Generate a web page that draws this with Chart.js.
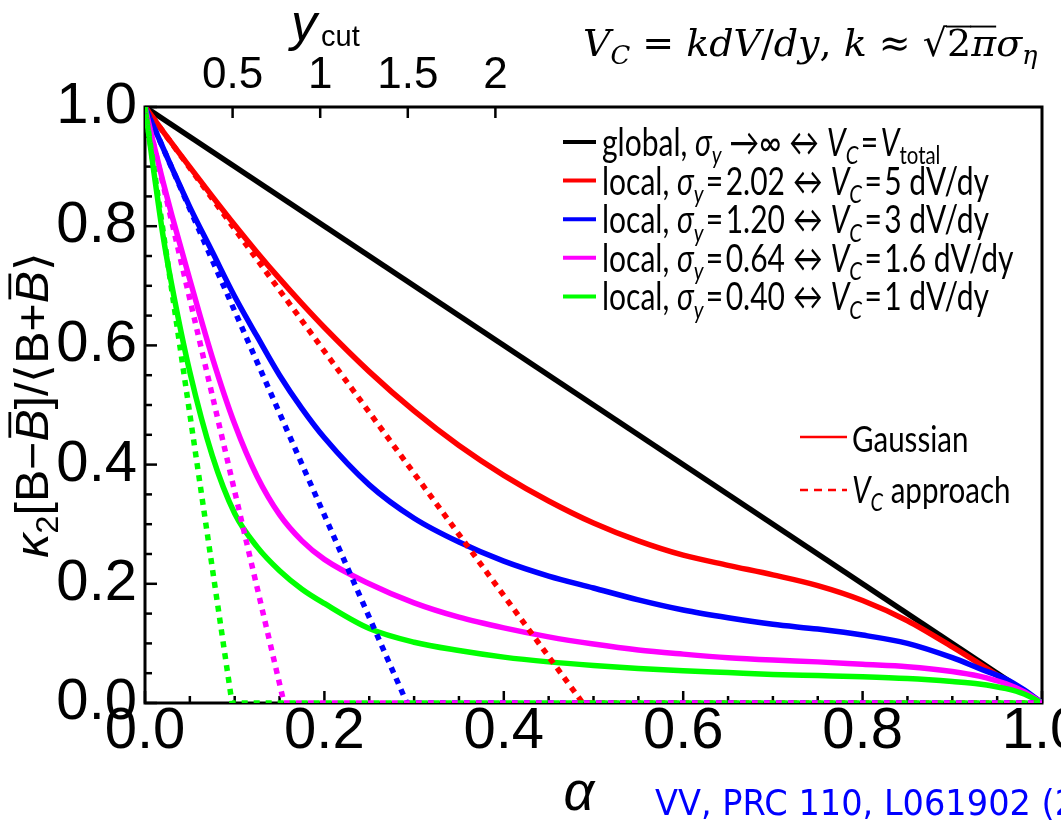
<!DOCTYPE html>
<html>
<head>
<meta charset="utf-8">
<script src="https://cdn.jsdelivr.net/npm/chart.js@4.4.1/dist/chart.umd.min.js"></script>
<style>
html, body { margin: 0; padding: 0; background: #fff; overflow: hidden; }
canvas { display: block; }
</style>
</head>
<body>
<canvas id="chart" width="1061" height="835"></canvas>
<script>

// alpha grid shared by the Gaussian curves
var alphaGrid = [0, 0.01, 0.02, 0.03, 0.05, 0.075, 0.1, 0.125, 0.15, 0.175, 0.2, 0.25, 0.3, 0.35, 0.4, 0.45,
                 0.5, 0.55, 0.6, 0.65, 0.7, 0.75, 0.8, 0.85, 0.9, 0.93, 0.96, 0.98, 1];

var alphaGlobal = [0, 1];
var kappaGlobal = [1, 0];

var kappaSigma202 = [1, 0.98, 0.959, 0.939, 0.899, 0.85, 0.802, 0.756, 0.712, 0.67, 0.63, 0.556, 0.49, 0.432, 0.382, 0.339,
                     0.302, 0.272, 0.248, 0.231, 0.215, 0.197, 0.172, 0.138, 0.094, 0.066, 0.037, 0.019, 0];
var kappaSigma120 = [1, 0.966, 0.932, 0.898, 0.832, 0.757, 0.682, 0.615, 0.55, 0.494, 0.445, 0.366, 0.31, 0.27, 0.238, 0.213,
                     0.193, 0.173, 0.156, 0.143, 0.132, 0.124, 0.114, 0.1, 0.076, 0.058, 0.04, 0.022, 0];
var kappaSigma064 = [1, 0.936, 0.875, 0.818, 0.71, 0.58, 0.468, 0.38, 0.316, 0.272, 0.241, 0.2, 0.168, 0.144, 0.126, 0.111,
                     0.099, 0.089, 0.082, 0.076, 0.072, 0.069, 0.065, 0.061, 0.053, 0.045, 0.032, 0.019, 0];
var kappaSigma040 = [1, 0.89, 0.785, 0.70, 0.555, 0.415, 0.318, 0.262, 0.222, 0.191, 0.167, 0.125, 0.102, 0.088, 0.077, 0.069,
                     0.063, 0.058, 0.054, 0.051, 0.048, 0.046, 0.044, 0.041, 0.036, 0.032, 0.024, 0.015, 0];

// V_C approach: straight drop to zero at alpha = V_C / V_total, then flat
var vcZeroAlpha = [0.488, 0.292, 0.155, 0.097];
var vcKappa = [1, 0, 0];

var sigmaLabels = ['2.02', '1.20', '0.64', '0.40'];
var vcLabels = ['5', '3', '1.6', '1'];
var seriesColors = ['#000000', '#ff0000', '#0000ff', '#ff00ff', '#00ff00'];

var alphaTicks = [0, 0.2, 0.4, 0.6, 0.8, 1.0];
var kappaTicks = [0, 0.2, 0.4, 0.6, 0.8, 1.0];
var ycutTicks = [0.5, 1, 1.5, 2];
var ycutMax = 5.12;

var tickFont = "'Liberation Sans', Arial, sans-serif";
var legendFont = "Lato, 'Open Sans', sans-serif";
var mathFont = "'DejaVu Serif', 'Liberation Serif', serif";

function points(xs, ys) {
    return xs.map(function (x, i) { return {x: x, y: ys[i]}; });
}

// draws a run of text pieces; style flags: i italic, _ subscript, - overline, v radical bar.
// a bare number is a gap in em
function richText(ctx, parts, x, y, size, family, measureOnly) {
    var cx = x;
    parts.forEach(function (p) {
        if (typeof p === 'number') { cx += p * size; return; }
        var txt = p[0], st = p[1] || '';
        var sub = st.indexOf('_') >= 0;
        var fs = sub ? size * 0.68 : size;
        ctx.font = (st.indexOf('i') >= 0 ? 'italic ' : '') + fs + 'px ' + family;
        var w = ctx.measureText(txt).width;
        if (!measureOnly) {
            ctx.fillText(txt, cx, y + (sub ? size * 0.22 : 0));
            if (st.indexOf('-') >= 0) {
                ctx.fillRect(cx + w * 0.12, y - size * 0.86, w * 0.8, size * 0.06);
            }
            if (st.indexOf('v') >= 0) {
                ctx.fillRect(cx - 1, y - size * 0.8, w + 1, size * 0.05);
            }
        }
        cx += w;
    });
    return cx - x;
}

// same, scaled horizontally
function narrowText(ctx, parts, x, y, size, family, squeeze) {
    ctx.save();
    ctx.translate(x, y);
    ctx.scale(squeeze, 1);
    richText(ctx, parts, 0, 0, size, family);
    ctx.restore();
}

function legendParts(k) {
    if (k === 0) {
        return [['global, '], ['σ', 'i'], ['y', 'i_'], [' →∞ ↔ '], ['V', 'i'], ['C', 'i_'], 0.08, ['='], 0.08,
                ['V', 'i'], ['total', '_']];
    }
    return [['local, '], ['σ', 'i'], ['y', 'i_'], 0.08, ['='], 0.08, [sigmaLabels[k - 1] + ' ↔ '], ['V', 'i'], ['C', 'i_'],
            0.08, ['='], 0.08, [vcLabels[k - 1] + ' dV/dy']];
}

var frameAndTicks = {
    id: 'frameAndTicks',
    beforeDatasetsDraw: function (chart) {
        var ctx = chart.ctx, a = chart.chartArea;
        var xs = chart.scales.x, ys = chart.scales.y, xt = chart.scales.x2;
        ctx.save();
        ctx.strokeStyle = '#000';
        ctx.lineWidth = 2.5;
        for (var i = 0; i <= 20; i++) {
            var v = i / 20;
            var len = (i % 4 === 0) ? 12 : 7;
            var px = xs.getPixelForValue(v);
            ctx.beginPath(); ctx.moveTo(px, a.bottom); ctx.lineTo(px, a.bottom - len); ctx.stroke();
            var py = ys.getPixelForValue(v);
            ctx.beginPath(); ctx.moveTo(a.left, py); ctx.lineTo(a.left + len, py); ctx.stroke();
        }
        ycutTicks.forEach(function (t) {
            var px = xt.getPixelForValue(t);
            ctx.beginPath(); ctx.moveTo(px, a.top); ctx.lineTo(px, a.top + 11); ctx.stroke();
        });
        ctx.lineWidth = 3;
        ctx.strokeRect(a.left, a.top, a.right - a.left, a.bottom - a.top);
        ctx.restore();
    }
};

var annotations = {
    id: 'annotations',
    afterDraw: function (chart) {
        var ctx = chart.ctx;
        ctx.save();
        ctx.fillStyle = '#000';
        ctx.textBaseline = 'alphabetic';

        // curve legend
        for (var k = 0; k < 5; k++) {
            var ly = 142 + k * 38.6;
            ctx.strokeStyle = seriesColors[k];
            ctx.lineWidth = 4;
            ctx.beginPath(); ctx.moveTo(563, ly); ctx.lineTo(596, ly); ctx.stroke();
            narrowText(ctx, legendParts(k), 602, ly + 14, 38, legendFont, 0.79);
        }

        // line style legend
        ctx.strokeStyle = '#ff0000';
        ctx.lineWidth = 2.5;
        ctx.beginPath(); ctx.moveTo(800, 437); ctx.lineTo(847, 437); ctx.stroke();
        ctx.setLineDash([8, 6]);
        ctx.beginPath(); ctx.moveTo(800, 490); ctx.lineTo(847, 490); ctx.stroke();
        ctx.setLineDash([]);
        narrowText(ctx, [['Gaussian']], 852, 452, 36, legendFont, 0.82);
        narrowText(ctx, [['V', 'i'], ['C', 'i_'], [' approach']], 852, 503, 36, legendFont, 0.82);

        // relation in the top right corner
        var formula = [['V', 'i'], ['C', 'i_'], [' = '], ['kdV', 'i'], ['/'], ['dy', 'i'], [', '], ['k', 'i'], [' ≈ '],
                       ['√'], ['2', 'v'], ['π', 'iv'], ['σ', 'i'], ['η', 'i_']];
        richText(ctx, formula, 583, 56, 38, mathFont);

        // top axis title
        ctx.font = 'italic 52px ' + tickFont;
        ctx.fillText('y', 291, 40);
        ctx.font = '29px ' + tickFont;
        ctx.fillText('cut', 321, 46);

        // bottom axis title
        ctx.font = 'italic 54px ' + tickFont;
        ctx.textAlign = 'center';
        ctx.fillText('α', 579, 810);
        ctx.textAlign = 'left';

        // reference
        ctx.fillStyle = '#0000ff';
        narrowText(ctx, [['VV, PRC 110, L061902 (2024)']], 655, 815, 35, "'DejaVu Sans', sans-serif", 0.96);

        // left axis title, rotated
        ctx.fillStyle = '#000';
        var title = [['κ', 'i'], ['2', '_'], ['[B−'], ['B', 'i-'], [']/⟨B+'], ['B', 'i-'], ['⟩']];
        ctx.translate(48, 405);
        ctx.rotate(-Math.PI / 2);
        ctx.scale(1.05, 1);
        var tw = richText(ctx, title, 0, 0, 46, tickFont, true);
        richText(ctx, title, -tw / 2, 0, 46, tickFont);
        ctx.restore();
    }
};

function main() {
    var canvas = document.getElementById('chart');

    var solidSets = [
        [alphaGlobal, kappaGlobal],
        [alphaGrid, kappaSigma202],
        [alphaGrid, kappaSigma120],
        [alphaGrid, kappaSigma064],
        [alphaGrid, kappaSigma040]
    ];
    var datasets = solidSets.map(function (s, i) {
        return {
            data: points(s[0], s[1]),
            borderColor: seriesColors[i],
            borderWidth: 5.5,
            pointRadius: 0,
            cubicInterpolationMode: 'monotone'
        };
    });
    vcZeroAlpha.forEach(function (z, i) {
        datasets.push({
            data: points([0, z, 1], vcKappa),
            borderColor: seriesColors[i + 1],
            borderWidth: 5.5,
            borderDash: [6, 6],
            borderCapStyle: 'butt',
            pointRadius: 0
        });
    });
    datasets.forEach(function (d, i) { d.order = datasets.length - i; });

    new Chart(canvas, {
        type: 'line',
        data: {datasets: datasets},
        options: {
            responsive: false,
            animation: false,
            devicePixelRatio: 1,
            layout: {padding: {left: 0, right: 19, top: 0, bottom: 0}},
            plugins: {legend: {display: false}, tooltip: {enabled: false}, title: {display: false}},
            scales: {
                x: {
                    type: 'linear', position: 'bottom', min: 0, max: 1,
                    afterBuildTicks: function (s) { s.ticks = alphaTicks.map(function (v) { return {value: v}; }); },
                    afterFit: function (s) { s.height = 835 - 703; s.paddingLeft = 0; s.paddingRight = 0; },
                    ticks: {
                        callback: function (v) { return v.toFixed(1); },
                        font: {family: tickFont, size: 58, lineHeight: 1}, color: '#000',
                        padding: 0, maxRotation: 0, autoSkip: false
                    },
                    grid: {display: false, drawTicks: false}, border: {display: false}
                },
                x2: {
                    type: 'linear', position: 'top', min: 0, max: ycutMax,
                    afterBuildTicks: function (s) { s.ticks = ycutTicks.map(function (v) { return {value: v}; }); },
                    afterFit: function (s) { s.height = 107; s.paddingLeft = 0; s.paddingRight = 0; },
                    ticks: {
                        callback: function (v) { return String(v); },
                        font: {family: tickFont, size: 44, lineHeight: 1}, color: '#000',
                        padding: 9, maxRotation: 0, autoSkip: false
                    },
                    grid: {display: false, drawTicks: false}, border: {display: false}
                },
                y: {
                    type: 'linear', min: 0, max: 1,
                    afterBuildTicks: function (s) { s.ticks = kappaTicks.map(function (v) { return {value: v}; }); },
                    afterFit: function (s) { s.width = 145; s.paddingTop = 0; s.paddingBottom = 0; },
                    ticks: {
                        callback: function (v) { return v.toFixed(1); },
                        font: {family: tickFont, size: 58, lineHeight: 1}, color: '#000',
                        padding: 8, autoSkip: false
                    },
                    grid: {display: false, drawTicks: false}, border: {display: false}
                }
            }
        },
        plugins: [frameAndTicks, annotations]
    });
}

main();
</script>
</body>
</html>
